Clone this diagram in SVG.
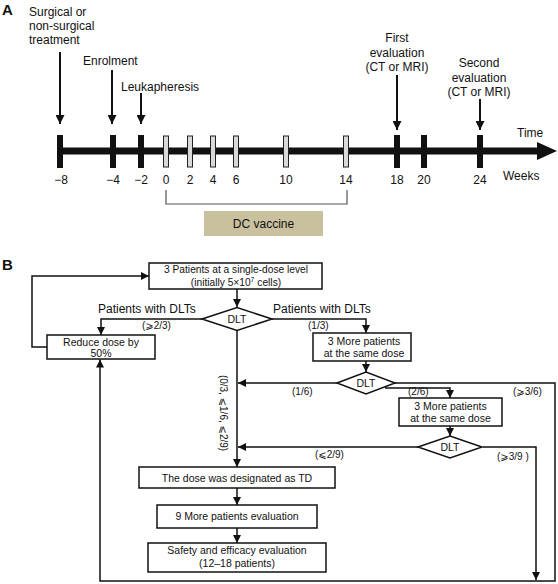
<svg xmlns="http://www.w3.org/2000/svg" width="558" height="584" viewBox="0 0 558 584">
<style>
text{font-family:"Liberation Sans","DejaVu Sans",Arial,sans-serif;fill:#111}
.t12{font-size:12px}
.t10{font-size:10px}
.bx{font-size:10.5px;text-anchor:middle}
.c{text-anchor:middle}
.panel{font-size:15px;font-weight:bold}
.box{fill:#fff;stroke:#111;stroke-width:1.5}
.dia{fill:#fff;stroke:#111;stroke-width:1.5}
.ln{fill:none;stroke:#111;stroke-width:1.5}
.la{fill:none;stroke:#111;stroke-width:2}
.bt{fill:#111}
.gt{fill:#d9d9d9;stroke:#222;stroke-width:1}
</style>
<defs>
<marker id="ah" viewBox="0 0 10 10" refX="10" refY="5" markerUnits="userSpaceOnUse" markerWidth="8" markerHeight="8" orient="auto">
<path d="M0,0 L10,5 L0,10 z" fill="#111"/>
</marker>
<marker id="ahA" viewBox="0 0 10 10" refX="10" refY="5" markerUnits="userSpaceOnUse" markerWidth="10" markerHeight="9" orient="auto">
<path d="M0,0 L10,5 L0,10 z" fill="#111"/>
</marker>
</defs>

<!-- Panel A -->
<g id="panelA">
<text class="panel" x="2" y="15">A</text>
<g id="timeline">
<line x1="57" y1="151" x2="540" y2="151" stroke="#111" stroke-width="7"/>
<polygon points="537,142 557,151 537,160" fill="#111"/>
<text class="t12" x="517" y="137">Time</text>
<text class="t12" x="503" y="180">Weeks</text>
</g>
<g id="ticks">
<rect class="bt" x="57" y="135" width="6" height="33"/>
<rect class="bt" x="110" y="135" width="6" height="33"/>
<rect class="bt" x="138" y="135" width="6" height="33"/>
<rect class="gt" x="163.5" y="136" width="5" height="31"/>
<rect class="gt" x="187.5" y="136" width="5" height="31"/>
<rect class="gt" x="210.5" y="136" width="5" height="31"/>
<rect class="gt" x="233.5" y="136" width="5" height="31"/>
<rect class="gt" x="283.5" y="136" width="5" height="31"/>
<rect class="gt" x="343.5" y="136" width="5" height="31"/>
<rect class="bt" x="394" y="135" width="6" height="33"/>
<rect class="bt" x="421" y="135" width="6" height="33"/>
<rect class="bt" x="477" y="135" width="6" height="33"/>
</g>
<g id="weeks" class="t12">
<text class="c" x="61" y="184">−8</text>
<text class="c" x="113" y="184">−4</text>
<text class="c" x="141" y="184">−2</text>
<text class="c" x="166" y="184">0</text>
<text class="c" x="190" y="184">2</text>
<text class="c" x="213" y="184">4</text>
<text class="c" x="236" y="184">6</text>
<text class="c" x="286" y="184">10</text>
<text class="c" x="346" y="184">14</text>
<text class="c" x="397" y="184">18</text>
<text class="c" x="424" y="184">20</text>
<text class="c" x="480" y="184">24</text>
</g>
<g id="events" class="t12">
<text x="29" y="16">Surgical or</text>
<text x="29" y="30">non-surgical</text>
<text x="29" y="44">treatment</text>
<line class="la" x1="60" y1="52" x2="60" y2="124" marker-end="url(#ahA)"/>
<text x="83" y="65">Enrolment</text>
<line class="la" x1="112" y1="70" x2="112" y2="124" marker-end="url(#ahA)"/>
<text x="121" y="91">Leukapheresis</text>
<line class="la" x1="141" y1="93" x2="141" y2="124" marker-end="url(#ahA)"/>
<text class="c" x="397" y="42">First</text>
<text class="c" x="397" y="57">evaluation</text>
<text class="c" x="397" y="71">(CT or MRI)</text>
<line class="la" x1="397" y1="75" x2="397" y2="130" marker-end="url(#ahA)"/>
<text class="c" x="479" y="67">Second</text>
<text class="c" x="479" y="82">evaluation</text>
<text class="c" x="479" y="96">(CT or MRI)</text>
<line class="la" x1="480" y1="99" x2="480" y2="130" marker-end="url(#ahA)"/>
</g>
<g id="dcvaccine">
<path d="M166,190 V204 H347 V190" fill="none" stroke="#555" stroke-width="1.2"/>
<rect x="204" y="211" width="119" height="25" fill="#c9c09d"/>
<text class="t12 c" x="263.5" y="228">DC vaccine</text>
</g>
</g>

<!-- Panel B -->
<text class="panel" x="2" y="270">B</text>

<g id="connectors">
<path class="ln" d="M237,289 V307" marker-end="url(#ah)"/>
<path class="ln" d="M202,319 H101 V335" marker-end="url(#ah)"/>
<path class="ln" d="M272,319 H366 V333" marker-end="url(#ah)"/>
<path class="ln" d="M366,361 V372" marker-end="url(#ah)"/>
<path class="ln" d="M337,383 H238" marker-end="url(#ah)"/>
<path class="ln" d="M395,383 H555 V581 H100 V359.5" marker-end="url(#ah)"/>
<path class="ln" d="M385,388 H450 V398" marker-end="url(#ah)"/>
<path class="ln" d="M450,426 V436" marker-end="url(#ah)"/>
<path class="ln" d="M418,447 H238" marker-end="url(#ah)"/>
<path class="ln" d="M483,447 H536 V580" marker-end="url(#ah)"/>
<path class="ln" d="M237,330 V467" marker-end="url(#ah)"/>
<path class="ln" d="M237,488 V505" marker-end="url(#ah)"/>
<path class="ln" d="M237,528 V543" marker-end="url(#ah)"/>
<path class="ln" d="M47,347 H32 V276 H149" marker-end="url(#ah)"/>
</g>

<g id="labels">
<text class="t12" x="98" y="313">Patients with DLTs</text>
<text class="t12" x="273" y="313">Patients with DLTs</text>
<text class="t10" x="142" y="329">(⩾2/3)</text>
<text class="t10" x="308" y="329">(1/3)</text>
<text class="t10" x="292" y="395">(1/6)</text>
<text class="t10" x="408" y="395">(2/6)</text>
<text class="t10" x="513" y="395">(⩾3/6)</text>
<text class="t10" x="315" y="458">(⩽2/9)</text>
<text class="t10" x="497" y="460">(⩾3/9 )</text>
<text class="t10 c" transform="translate(220,413) rotate(90)">(0/3, ⩽1/6, ⩽2/9)</text>
</g>

<g id="box1">
<rect class="box" x="149" y="263" width="173" height="26"/>
<text class="bx" x="236" y="273" style="font-size:10.2px">3 Patients at a single-dose level</text>
<text class="bx" x="236" y="285.5" style="font-size:10.2px">(initially 5×10<tspan dy="-4" font-size="7">7</tspan><tspan dy="4"> cells)</tspan></text>
</g>
<g id="dlt1">
<polygon class="dia" points="202,319 237,307.5 272,319 237,330.5"/>
<text class="bx" x="237" y="323">DLT</text>
</g>
<g id="reduce">
<rect class="box" x="47" y="335" width="108" height="24"/>
<text class="bx" x="101" y="346">Reduce dose by</text>
<text class="bx" x="101" y="357">50%</text>
</g>
<g id="box2">
<rect class="box" x="313" y="333" width="98" height="28"/>
<text class="bx" x="364" y="345">3 More patients</text>
<text class="bx" x="364" y="357">at the same dose</text>
</g>
<g id="dlt2">
<polygon class="dia" points="337,383 366,372 395,383 366,394"/>
<text class="bx" x="366" y="387">DLT</text>
</g>
<g id="box3">
<rect class="box" x="399" y="398" width="103" height="28"/>
<text class="bx" x="450.5" y="410">3 More patients</text>
<text class="bx" x="450.5" y="422">at the same dose</text>
</g>
<g id="dlt3">
<polygon class="dia" points="418,447 450,436 482,447 450,458"/>
<text class="bx" x="450" y="451">DLT</text>
</g>
<g id="td">
<rect class="box" x="139" y="467" width="196" height="21"/>
<text class="bx" x="237" y="481.5">The dose was designated as TD</text>
</g>
<g id="more9">
<rect class="box" x="157" y="505" width="160" height="23"/>
<text class="bx" x="237" y="520">9 More patients evaluation</text>
</g>
<g id="safety">
<rect class="box" x="148" y="543" width="178" height="29"/>
<text class="bx" x="237" y="554">Safety and efficacy evaluation</text>
<text class="bx" x="237" y="567">(12–18 patients)</text>
</g>
</svg>
